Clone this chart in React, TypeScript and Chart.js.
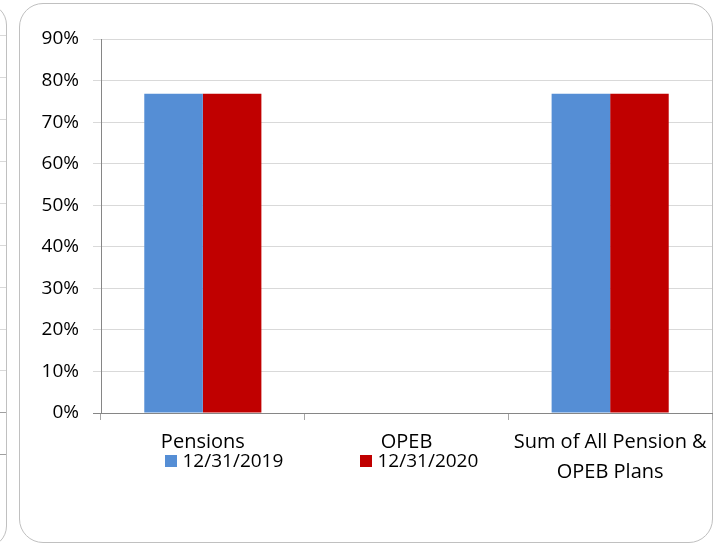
import React, { useEffect, useRef } from "react";
import { Chart, registerables } from "chart.js";

Chart.register(...registerables);

// ---- data ----
const categories: (string | string[])[] = ["Pensions", "OPEB", ["Sum of All Pension &", "OPEB Plans"]];
const seriesNames = ["12/31/2019", "12/31/2020"];
const values2019 = [76.8, 0, 76.8];
const values2020 = [76.8, 0, 76.8];
const seriesColors = ["#558ED5", "#C00000"];
const yMin = 0;
const yMax = 90;
const yStep = 10;

const FONT = "'Open Sans'";

const legendPlugin = {
  id: "excelLegend",
  afterDraw(chart: any) {
    const { ctx, chartArea } = chart;
    const offsets = [64, 259];
    ctx.save();
    ctx.font = `19px ${FONT}`;
    ctx.textBaseline = "alphabetic";
    ctx.textAlign = "left";
    chart.data.datasets.forEach((ds: any, i: number) => {
      const x = chartArea.left + offsets[i];
      ctx.fillStyle = ds.backgroundColor;
      ctx.fillRect(x, chartArea.bottom + 42, 12, 12);
      ctx.fillStyle = "#000";
      ctx.fillText(ds.label, x + 17.5, chartArea.bottom + 53.7);
    });
    ctx.restore();
  },
};

const leftStripLines = [34.5, 77, 119, 161, 203, 245, 287, 329, 370, 412, 454];

export default function App() {
  const canvasRef = useRef<HTMLCanvasElement | null>(null);

  useEffect(() => {
    if (!canvasRef.current) return;
    const chart = new Chart(canvasRef.current, {
      type: "bar",
      data: {
        labels: categories as any,
        datasets: [
          {
            label: seriesNames[0],
            data: values2019,
            backgroundColor: seriesColors[0],
            borderWidth: 0,
          },
          {
            label: seriesNames[1],
            data: values2020,
            backgroundColor: seriesColors[1],
            borderWidth: 0,
          },
        ],
      },
      options: {
        responsive: false,
        animation: false,
        devicePixelRatio: 1,
        datasets: { bar: { categoryPercentage: 0.575, barPercentage: 1 } },
        layout: { padding: { left: 40, right: 11, top: 39, bottom: 40 } },
        plugins: {
          legend: { display: false },
          tooltip: { enabled: false },
        },
        scales: {
          x: {
            grid: {
              drawOnChartArea: false,
              drawTicks: true,
              tickLength: 7,
              color: "#a6a6a6",
              offset: true,
            },
            border: { color: "#868686", width: 1 },
            ticks: {
              color: "#000",
              padding: 7,
              maxRotation: 0,
              autoSkip: false,
              font: { family: FONT, size: 20, lineHeight: 1.5 },
            },
            afterFit: (s: any) => {
              s.height = 90;
            },
          },
          y: {
            min: yMin,
            max: yMax,
            grid: {
              color: "#d9d9d9",
              tickLength: 8,
              tickColor: (c: any) => (c.tick && c.tick.value === 0 ? "#868686" : "#d9d9d9"),
            },
            border: { color: "#868686", width: 1 },
            ticks: {
              stepSize: yStep,
              padding: 14,
              color: "#000",
              font: { family: FONT, size: 19 },
              callback: (v: any) => `${v}%`,
            },
            afterFit: (s: any) => {
              s.width = 61;
            },
          },
        },
      },
      plugins: [legendPlugin],
    });
    return () => chart.destroy();
  }, []);

  return (
    <div
      style={{
        position: "fixed",
        left: 0,
        top: 0,
        width: 723,
        height: 543,
        overflow: "hidden",
        background: "#fff",
      }}
    >
      {/* partial neighbouring frame on the left */}
      <div
        style={{
          position: "absolute",
          left: -700,
          top: 3,
          width: 707,
          height: 545,
          boxSizing: "border-box",
          border: "1px solid #c0c0c0",
          borderRadius: 22,
        }}
      />
      {leftStripLines.map((y, i) => (
        <div
          key={i}
          style={{
            position: "absolute",
            left: 0,
            top: y,
            width: 6,
            height: 1,
            background: i >= leftStripLines.length - 2 ? "#a0a0a0" : "#d9d9d9",
          }}
        />
      ))}
      {/* main frame */}
      <div
        style={{
          position: "absolute",
          left: 19,
          top: 3,
          width: 694,
          height: 540,
          boxSizing: "border-box",
          border: "1px solid #c0c0c0",
          borderRadius: 24,
          background: "#fff",
        }}
      />
      <canvas
        ref={canvasRef}
        width={723}
        height={543}
        style={{ position: "absolute", left: 0, top: 0, width: 723, height: 543 }}
      />
    </div>
  );
}
